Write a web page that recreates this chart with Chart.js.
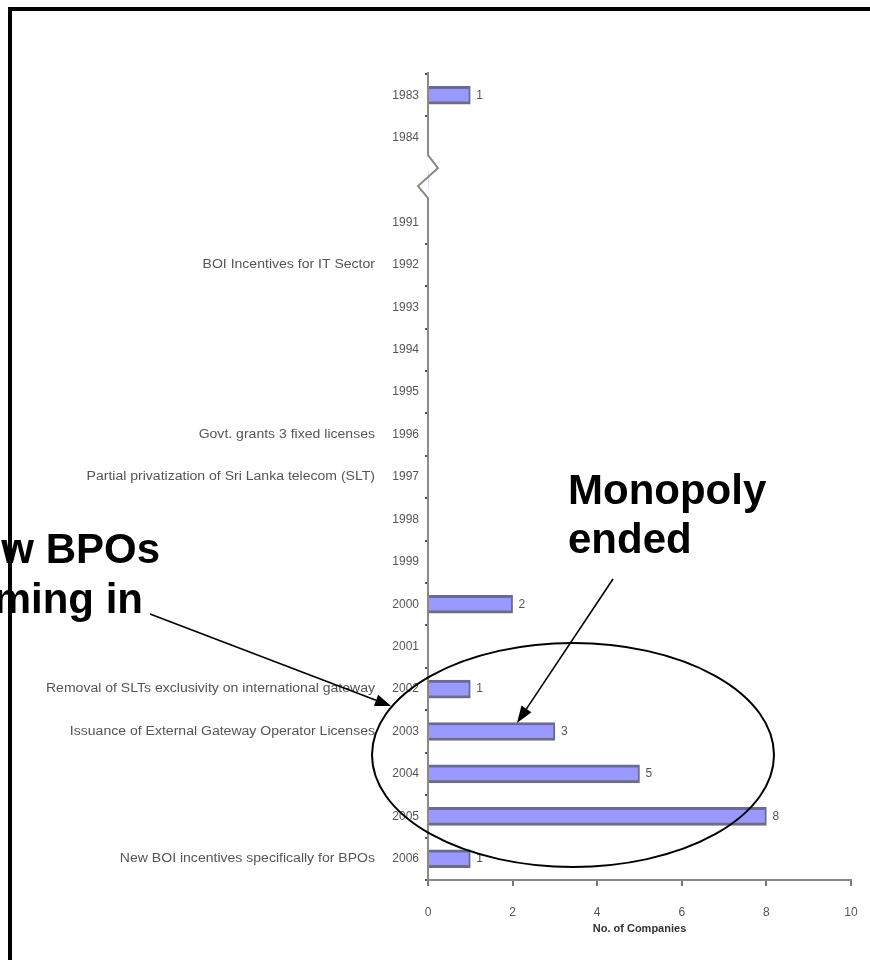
<!DOCTYPE html>
<html>
<head>
<meta charset="utf-8">
<script src="https://cdn.jsdelivr.net/npm/chart.js@4.4.1/dist/chart.umd.min.js"></script>
<style>
  html, body { margin: 0; padding: 0; background: #fff; }
  #wrap { position: relative; width: 870px; height: 960px; overflow: hidden; }
  #frame { position: absolute; left: 8px; top: 7px; width: 900px; height: 1000px;
           border-top: 4px solid #000; border-left: 4px solid #000; pointer-events: none; }
  canvas { position: absolute; left: 0; top: 0; }
</style>
</head>
<body>
<div id="wrap">
  <canvas id="chart" width="870" height="960"></canvas>
  <div id="frame"></div>
</div>
<script>
// years on the axis (the blank slot is the axis break between 1984 and 1991)
const years = ['1983', '1984', '', '1991', '1992', '1993', '1994', '1995', '1996', '1997',
  '1998', '1999', '2000', '2001', '2002', '2003', '2004', '2005', '2006'];
const companies = [1, 0, 0, 0, 0, 0, 0, 0, 0, 0, 0, 0, 2, 0, 1, 3, 5, 8, 1];
const events = ['', '', '', '', 'BOI Incentives for IT Sector', '', '', '', 'Govt. grants 3 fixed licenses',
  'Partial privatization of Sri Lanka telecom (SLT)', '', '', '', '',
  'Removal of SLTs exclusivity on international gateway', 'Issuance of External Gateway Operator Licenses',
  '', '', 'New BOI incentives specifically for BPOs'];
const breakIndex = 2;
const xMin = 0, xMax = 10, xStep = 2;

const FONT = 'Arial, "Liberation Sans", sans-serif';
const grey = '#555';
const axisGrey = '#8a8a8a';

// y axis line drawn by hand so it can carry the zigzag break
const axisBreak = {
  id: 'axisBreak',
  afterDraw(chart) {
    const { ctx, chartArea: a, scales: { y } } = chart;
    const L = a.left, c = y.getPixelForValue(breakIndex);
    ctx.save();
    ctx.strokeStyle = axisGrey;
    ctx.lineWidth = 2;
    ctx.beginPath();
    ctx.moveTo(L, a.top - 2);
    ctx.lineTo(L, c - 25);
    ctx.lineTo(L + 10, c - 12);
    ctx.lineTo(L - 10, c + 6);
    ctx.lineTo(L, c + 18);
    ctx.lineTo(L, a.bottom);
    ctx.stroke();
    ctx.restore();
  }
};

// event text left of the year labels (a bit stretched, like the source) + value labels
const labelsPlugin = {
  id: 'labelsPlugin',
  afterDatasetsDraw(chart) {
    const { ctx, chartArea: a, scales: { x, y } } = chart;
    ctx.save();
    ctx.font = '12px ' + FONT;
    ctx.fillStyle = grey;
    ctx.textBaseline = 'middle';
    ctx.textAlign = 'right';
    events.forEach((ev, i) => {
      if (!ev) return;
      ctx.save();
      ctx.translate(a.left - 53, y.getPixelForValue(i));
      ctx.scale(1.17, 1);
      ctx.fillText(ev, 0, 0);
      ctx.restore();
    });
    ctx.textAlign = 'left';
    companies.forEach((v, i) => { if (v > 0) ctx.fillText(String(v), x.getPixelForValue(v) + 6, y.getPixelForValue(i)); });
    ctx.restore();
  }
};

function arrow(ctx, x1, y1, x2, y2, len, half) {
  const ang = Math.atan2(y2 - y1, x2 - x1);
  const bx = x2 - len * Math.cos(ang), by = y2 - len * Math.sin(ang);
  ctx.beginPath();
  ctx.moveTo(x1, y1);
  ctx.lineTo(bx, by);
  ctx.stroke();
  ctx.beginPath();
  ctx.moveTo(x2, y2);
  ctx.lineTo(bx + half * Math.sin(ang), by - half * Math.cos(ang));
  ctx.lineTo(bx - half * Math.sin(ang), by + half * Math.cos(ang));
  ctx.closePath();
  ctx.fill();
}

// callouts: ellipse, arrows and the two bold notes
const callouts = {
  id: 'callouts',
  afterDraw(chart) {
    const ctx = chart.ctx;
    ctx.save();
    ctx.strokeStyle = '#000';
    ctx.fillStyle = '#000';
    ctx.lineWidth = 2;
    ctx.beginPath();
    ctx.ellipse(573, 755, 201, 112, 0, 0, Math.PI * 2);
    ctx.stroke();
    ctx.lineWidth = 1.6;
    arrow(ctx, 150, 614, 391, 706, 16, 6);
    arrow(ctx, 613, 579, 517, 723, 17, 6);
    ctx.font = 'bold 42px ' + FONT;
    ctx.textBaseline = 'alphabetic';
    ctx.textAlign = 'left';
    ctx.fillText('Monopoly', 568, 504);
    ctx.fillText('ended', 568, 553);
    ctx.textAlign = 'right';
    ctx.fillText('New BPOs', 160, 563);
    ctx.fillText('coming in', 143, 613);
    ctx.restore();
  }
};

new Chart(document.getElementById('chart'), {
  type: 'bar',
  data: {
    labels: years,
    datasets: [{
      data: companies,
      backgroundColor: '#9999ff',
      borderColor: '#6b6b8c',
      borderWidth: ctx => (ctx.raw > 0 ? { top: 3, bottom: 3, right: 2, left: 0 } : 0),
      borderSkipped: 'left',
      barThickness: 18
    }]
  },
  options: {
    indexAxis: 'y',
    responsive: false,
    animation: false,
    layout: { padding: { top: 74, right: 19, bottom: 24, left: 0 } },
    plugins: { legend: { display: false }, tooltip: { enabled: false } },
    scales: {
      y: {
        afterFit: s => { s.width = 428; },
        ticks: { font: { family: FONT, size: 12 }, color: grey, padding: 6, autoSkip: false },
        grid: {
          offset: true,
          drawOnChartArea: false,
          tickLength: 3,
          lineWidth: 2,
          color: ctx => (ctx.index === breakIndex || ctx.index === breakIndex + 1) ? 'rgba(0,0,0,0)' : grey
        },
        border: { display: false }
      },
      x: {
        min: xMin,
        max: xMax,
        afterFit: s => { s.height = 56; s.paddingLeft = 0; s.paddingRight = 0; },
        ticks: { stepSize: xStep, font: { family: FONT, size: 12 }, color: grey, padding: 19 },
        grid: { drawOnChartArea: false, tickLength: 6, lineWidth: 2, color: '#777' },
        border: { color: axisGrey, width: 2 },
        title: { display: true, text: 'No. of Companies', font: { family: FONT, size: 11, weight: 'bold' }, color: '#333', padding: 0 }
      }
    }
  },
  plugins: [axisBreak, labelsPlugin, callouts]
});
</script>
</body>
</html>
